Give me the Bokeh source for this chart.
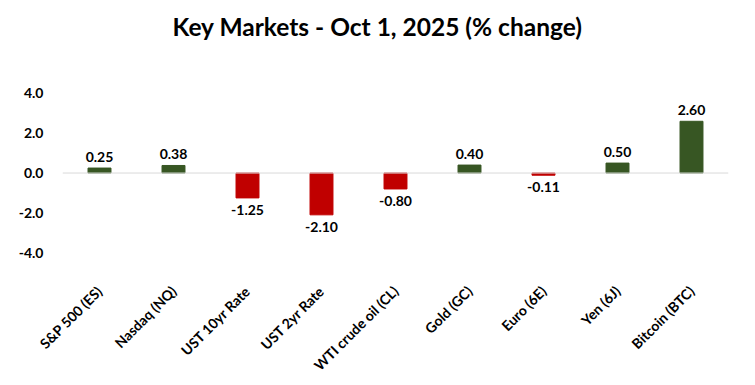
from bokeh.plotting import figure
from bokeh.models import ColumnDataSource, FixedTicker, Span, Title, CustomJSTickFormatter
from bokeh.core.properties import value
from bokeh.embed import file_html
from bokeh.resources import INLINE
import math

categories = ["S&P 500 (ES)", "Nasdaq (NQ)", "UST 10yr Rate", "UST 2yr Rate",
              "WTI crude oil (CL)", "Gold (GC)", "Euro (6E)", "Yen (6J)", "Bitcoin (BTC)"]
changes = [0.25, 0.38, -1.25, -2.10, -0.80, 0.40, -0.11, 0.50, 2.60]
y_ticks = [-4, -2, 0, 2, 4]
title_text = "Key Markets - Oct 1, 2025 (% change)"

GREEN = "#375623"
RED = "#C00000"
FONT = "Lato"

colors = [GREEN if v >= 0 else RED for v in changes]
labels = ["%.2f" % v for v in changes]
src = ColumnDataSource(dict(cat=categories, val=changes, color=colors))

pos = [i for i, v in enumerate(changes) if v >= 0]
neg = [i for i, v in enumerate(changes) if v < 0]
src_pos = ColumnDataSource(dict(cat=[categories[i] for i in pos], val=[changes[i] for i in pos],
                                label=[labels[i] for i in pos]))
src_neg = ColumnDataSource(dict(cat=[categories[i] for i in neg], val=[changes[i] for i in neg],
                                label=[labels[i] for i in neg]))

p = figure(x_range=categories, y_range=(-5.4, 4.65), width=755, height=385,
           output_backend="svg", toolbar_location=None, title=None,
           min_border_left=62, min_border_right=27, min_border_top=80, min_border_bottom=105)
# spacer panel (closest to the frame), then the main title above it
p.add_layout(Title(text=" ", text_font_size="1px", standoff=32), "above")
p.add_layout(Title(text=title_text, align="left", offset=110, text_font=FONT,
                   text_font_size="24.5px", text_font_style="bold", text_color="#000000",
                   standoff=10), "above")

p.vbar(x="cat", top="val", bottom=0, width=0.31, color="color", source=src)

p.text(x="cat", y="val", text="label", source=src_pos, y_offset=-6,
       text_align="center", text_baseline="bottom", text_font=value(FONT),
       text_font_size="14px", text_font_style="bold", text_color="#000000")
p.text(x="cat", y="val", text="label", source=src_neg, y_offset=7,
       text_align="center", text_baseline="top", text_font=value(FONT),
       text_font_size="14px", text_font_style="bold", text_color="#000000")

p.add_layout(Span(location=0, dimension="width", line_color="#D9D9D9", line_width=1))

p.xgrid.visible = False
p.ygrid.visible = False
p.outline_line_color = None
p.background_fill_color = "white"
p.border_fill_color = "white"

p.yaxis.ticker = FixedTicker(ticks=y_ticks)
p.yaxis.formatter = CustomJSTickFormatter(code="return tick.toFixed(1);")
p.yaxis.axis_line_color = None
p.yaxis.major_tick_line_color = None
p.yaxis.minor_tick_line_color = None
p.yaxis.major_label_standoff = 13
p.yaxis.major_label_text_font = FONT
p.yaxis.major_label_text_font_size = "14px"
p.yaxis.major_label_text_font_style = "bold"
p.yaxis.major_label_text_color = "#000000"

p.xaxis.axis_line_color = None
p.xaxis.major_tick_line_color = None
p.xaxis.major_label_orientation = math.pi / 4
p.xaxis.major_label_standoff = 2
p.xaxis.major_label_text_font = FONT
p.xaxis.major_label_text_font_size = "14px"
p.xaxis.major_label_text_font_style = "bold"
p.xaxis.major_label_text_color = "#000000"

open("out.html", "w").write(file_html(p, INLINE))
